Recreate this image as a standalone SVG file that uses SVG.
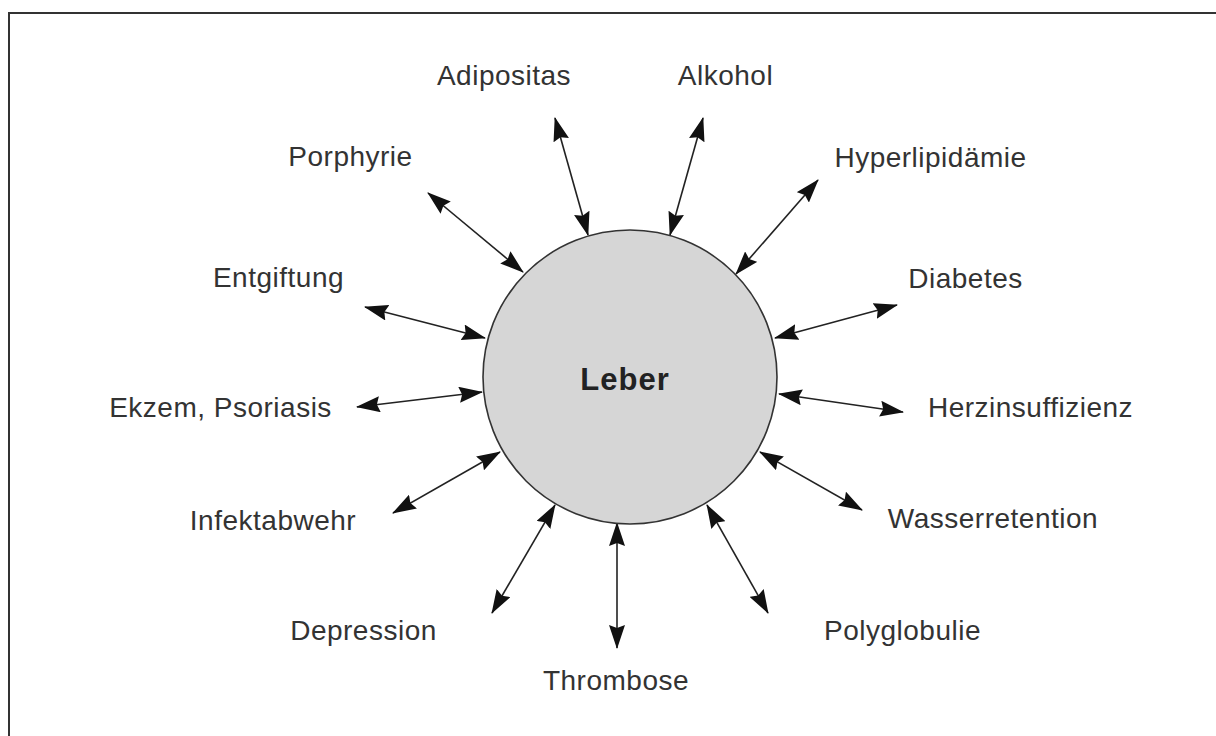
<svg xmlns="http://www.w3.org/2000/svg" width="1216" height="736" viewBox="0 0 1216 736">
<style>
.lbl{font-family:"Liberation Sans",Arial,sans-serif;font-size:28px;fill:#333;text-anchor:middle;letter-spacing:0.5px}
.ctr{font-family:"Liberation Sans",Arial,sans-serif;font-size:31px;font-weight:bold;fill:#222;text-anchor:middle;letter-spacing:1px}
.con line{stroke:#222;stroke-width:1.6;marker-start:url(#ah);marker-end:url(#ah)}
</style>
<defs>
<marker id="ah" viewBox="0 0 24 16" refX="23" refY="8" markerWidth="24" markerHeight="16" markerUnits="userSpaceOnUse" orient="auto-start-reverse">
<path d="M0,0 L24,8 L0,16 L3,8 Z" fill="#111"/>
</marker>
</defs>
<rect width="1216" height="736" fill="#fff"/>
<rect x="9" y="13" width="1300" height="800" fill="none" stroke="#333" stroke-width="2"/>
<g id="connectors" class="con">
<line x1="588" y1="235" x2="555" y2="118"/>
<line x1="670" y1="235" x2="703" y2="118"/>
<line x1="523" y1="272" x2="428" y2="193"/>
<line x1="485" y1="338" x2="365" y2="307"/>
<line x1="482" y1="392" x2="357" y2="407"/>
<line x1="500" y1="452" x2="393" y2="513"/>
<line x1="555" y1="505" x2="492" y2="613"/>
<line x1="617" y1="523" x2="617" y2="648"/>
<line x1="707" y1="505" x2="768" y2="613"/>
<line x1="760" y1="452" x2="862" y2="510"/>
<line x1="779" y1="394" x2="903" y2="412"/>
<line x1="775" y1="338" x2="897" y2="305"/>
<line x1="736" y1="274" x2="818" y2="180"/>
</g>
<g id="leber">
<circle cx="630" cy="377" r="147" fill="#d6d6d6" stroke="#333" stroke-width="1.6"/>
<text class="ctr" x="625" y="390">Leber</text>
</g>
<g id="adipositas"><text class="lbl" x="504" y="85">Adipositas</text></g>
<g id="alkohol"><text class="lbl" x="725.5" y="85">Alkohol</text></g>
<g id="porphyrie"><text class="lbl" x="350.5" y="166">Porphyrie</text></g>
<g id="entgiftung"><text class="lbl" x="278.5" y="287">Entgiftung</text></g>
<g id="ekzem"><text class="lbl" x="220.5" y="417">Ekzem, Psoriasis</text></g>
<g id="infektabwehr"><text class="lbl" x="273" y="530">Infektabwehr</text></g>
<g id="depression"><text class="lbl" x="363.5" y="640">Depression</text></g>
<g id="thrombose"><text class="lbl" x="616" y="690">Thrombose</text></g>
<g id="polyglobulie"><text class="lbl" x="902.5" y="640">Polyglobulie</text></g>
<g id="wasserretention"><text class="lbl" x="993" y="528">Wasserretention</text></g>
<g id="herzinsuffizienz"><text class="lbl" x="1030.5" y="417">Herzinsuffizienz</text></g>
<g id="diabetes"><text class="lbl" x="965.5" y="288">Diabetes</text></g>
<g id="hyperlipidaemie"><text class="lbl" x="930.5" y="167">Hyperlipidämie</text></g>
</svg>
